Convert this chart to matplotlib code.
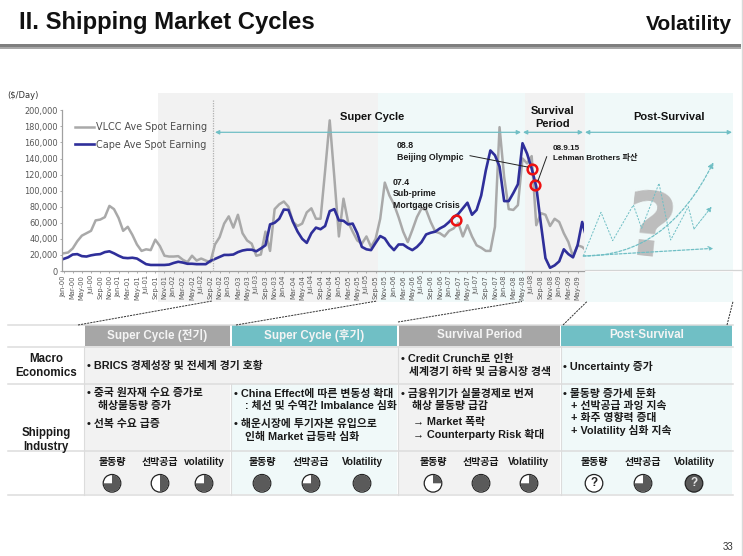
import matplotlib
matplotlib.use("Agg")
import matplotlib.pyplot as plt
from matplotlib.patches import Rectangle, Wedge, Circle, FancyArrowPatch
from matplotlib.lines import Line2D
from matplotlib.path import Path

W, H = 743, 556
FONT = ['Liberation Sans', 'Noto Sans CJK KR', 'DejaVu Sans']
plt.rcParams['font.family'] = FONT

tick_labels = ["Jan-00","Mar-00","May-00","Jul-00","Sep-00","Nov-00",
               "Jan-01","Mar-01","May-01","Jul-01","Sep-01","Nov-01",
               "Jan-02","Mar-02","May-02","Jul-02","Sep-02","Nov-02",
               "Jan-03","Mar-03","May-03","Jul-03","Sep-03","Nov-03",
               "Jan-04","Mar-04","May-04","Jul-04","Sep-04","Nov-04",
               "Jan-05","Mar-05","May-05","Jul-05","Sep-05","Nov-05",
               "Jan-06","Mar-06","May-06","Jul-06","Sep-06","Nov-06",
               "Jan-07","Mar-07","May-07","Jul-07","Sep-07","Nov-07",
               "Jan-08","Mar-08","May-08","Jul-08","Sep-08","Nov-08",
               "Jan-09","Mar-09","May-09"]
y_ticks = [0,20000,40000,60000,80000,100000,120000,140000,160000,180000,200000]

vlcc = [22,23,28,37,44,47,50,63,64,67,81,77,66,50,55,45,33,25,27,26,39,31,19,18,18,18.5,14,11,19,13,15.5,13,
        11,33,42,59,68,54,70,47,38,34,19,20.5,49,25,77,83,86.5,80,61,56,59,73,78,65,65,125,187.5,117,43,90,61,49,
        38,34,43,30,40,65,110,94,83,67,49,36,51,67,78,76,61,49,47,43,50,53,60,43,57,43,32,29,25,25,55,179,117,77,
        76,82,140,134,143,57,72,70,56,65,61,47,36,18,32,30,25]
cape = [15,17,20.5,21,18.5,18,19.5,20.5,21,23.5,24.5,22,19,16.5,16,16.5,15.5,12,8.5,7.5,7.5,7.5,7.5,8,10,11.5,
        10.5,9,9,8.5,8.5,8.5,12.5,15,17.5,20,20,20.5,23.5,25.5,26.5,26.5,24.5,28,32,58,60,65,76.5,76,61,49,40,35,
        47,54,52,56,74.5,77,63,62.5,58,59,47,30,27,26,35,43.5,40.5,32,26,33,33,29,26,30,36,45.5,47.6,49,53,56,61,
        67,71,78,85,70,76,94,125,150,144,130,87,87,97,108,159,146,127.5,105,59,16,4,7,12,27,21,17,32,61,40]
event_x = [85.6, 102.1, 102.8]
event_y = [64, 127.5, 107]

fig = plt.figure(figsize=(W/100, H/100), dpi=100, facecolor='white')

def Y(p):
    return H - p

bg = fig.add_axes([0, 0, 1, 1], zorder=0)
bg.set_xlim(0, W); bg.set_ylim(0, H); bg.axis('off')
fg = fig.add_axes([0, 0, 1, 1], zorder=2)
fg.set_xlim(0, W); fg.set_ylim(0, H); fg.axis('off'); fg.patch.set_alpha(0)

GRAY_BG, TEAL_BG = '#f2f2f2', '#f0f9f9'
TEAL, HEAD_GRAY = '#70bfc5', '#a6a6a6'
LINE = '#dcdcdc'
TXT = '#1a1a1a'

def rect(ax, x0, y0, x1, y1, c, z=1):
    ax.add_patch(Rectangle((x0, Y(y1)), x1-x0, y1-y0, fc=c, ec='none', zorder=z))

def seg(ax, x0, y0, x1, y1, **k):
    ax.add_line(Line2D([x0, x1], [Y(y0), Y(y1)], **k))

def txt(x, y, s, size=7, ha='left', color=TXT, weight='bold', ax=None, **k):
    (ax or fg).text(x, Y(y), s, fontsize=size, ha=ha, va='center', color=color, fontweight=weight, **k)

# header
txt(19, 22.5, "II. Shipping Market Cycles", size=17.2, color='#111111')
txt(732, 25, "Volatility", size=15, ha='right', color='#111111')
rect(bg, 0, 44, 741, 47, '#7f7f7f')
rect(bg, 0, 47, 741, 49, '#a8a8a8')
seg(bg, 741.5, 0, 741.5, H, color='#d9d9d9', lw=1)
txt(733, 547, "33", size=7, ha='right', weight='normal', color='#333333')

# chart bands
rect(bg, 158, 93, 378, 302, GRAY_BG)
rect(bg, 378, 93, 525, 302, TEAL_BG)
rect(bg, 525, 93, 584.5, 302, GRAY_BG)
rect(bg, 584.5, 93, 733, 302, TEAL_BG)
rect(bg, 584.5, 270, 741, 272, 'white', z=2)
seg(bg, 584.5, 270.3, 741, 270.3, color='#d4d4d4', lw=0.9, zorder=3)

# chart
L, R, T, B = 62, 584, 110.3, 271
ax = fig.add_axes([L/W, 1-B/H, (R-L)/W, (B-T)/H], zorder=1)
ax.patch.set_alpha(0)
x0_px, dx_px = 63.5, 4.59
ax.set_xlim((L-x0_px)/dx_px, (R-x0_px)/dx_px)
ax.set_ylim(0, 200000)
xs = list(range(len(cape)))
ax.plot(xs[:len(vlcc)], [v*1000 for v in vlcc], color='#a9a9a9', lw=1.8, label='VLCC Ave Spot Earning', solid_joinstyle='round')
ax.plot(xs, [v*1000 for v in cape], color='#2f2f9a', lw=1.9, label='Cape Ave Spot Earning', solid_joinstyle='round')
ax.plot(event_x, [v*1000 for v in event_y], ls='none', marker='o', ms=7, mfc='none', mec='#ee1111', mew=1.8, zorder=5, clip_on=False)
for s in ('top', 'right'):
    ax.spines[s].set_visible(False)
for s in ('left', 'bottom'):
    ax.spines[s].set_color('#a0a0a0'); ax.spines[s].set_linewidth(0.9)
ax.set_yticks(y_ticks)
ax.set_yticklabels([f"{v:,}" for v in y_ticks], fontsize=5.9, color='#555555', family='DejaVu Sans')
ax.set_xticks(range(0, 2*len(tick_labels), 2))
ax.set_xticklabels(tick_labels, rotation=90, fontsize=4.9, color='#555555', family='DejaVu Sans')
ax.tick_params(axis='both', length=1.5, width=0.6, color='#a0a0a0', pad=1.5)
leg = ax.legend(loc='upper left', bbox_to_anchor=(0.025, 0.925), frameon=False,
                labelcolor='#4d4d4d', handlelength=2.0, handletextpad=0.15, labelspacing=0.75,
                borderaxespad=0, borderpad=0, prop={'family': 'DejaVu Sans', 'size': 6.9})
txt(7, 95, "($/Day)", size=6, color='#333333', weight='normal', family='DejaVu Sans')

# dotted divider
seg(fg, 212.7, 100, 212.7, 272, color='#b0b0b0', lw=0.9, ls=(0, (1, 1)))

# period arrows
for a, b in [(215, 521), (523, 583), (585, 732)]:
    fg.add_patch(FancyArrowPatch((a, Y(132.3)), (b, Y(132.3)), arrowstyle='<|-|>', mutation_scale=6,
                                 color=TEAL, lw=0.9, shrinkA=0, shrinkB=0))

PER = 8.0
txt(372.5, 117, "Super Cycle", size=PER, color='#111111', ha='center')
txt(552.5, 110.7, "Survival", size=PER, color='#111111', ha='center')
txt(552.5, 123.7, "Period", size=PER, color='#111111', ha='center')
txt(669, 117, "Post-Survival", size=PER, color='#111111', ha='center')

# notes
NOTE = 6.3
txt(396.7, 146, "08.8", size=NOTE)
txt(396.7, 157, "Beijing Olympic", size=NOTE)
txt(552.7, 148.3, "08.9.15", size=5.9)
txt(552.7, 158.3, "Lehman Brothers 파산", size=5.9)
txt(393, 182.3, "07.4", size=NOTE)
txt(393, 194, "Sub-prime", size=NOTE)
txt(393, 205, "Mortgage Crisis", size=NOTE)
seg(fg, 470, 155.7, 527.5, 167, color='#222222', lw=0.7)
seg(fg, 546.7, 156.7, 538, 180.7, color='#222222', lw=0.7)

# scenario lines in post-survival
zig = [(40,318),(93,187),(128,272),(190,165),(215,235),(267,100),(302,270),(355,170),(372,237),(425,170)]
px = lambda p: (570+p[0]/3, Y(150+p[1]/3))
DASH = (0, (2.2, 1.4))
bg.text(650, Y(232), "?", fontsize=64, color='#bdbdbd', fontweight='bold', ha='center', va='center', rotation=-6, zorder=4,
        family='DejaVu Sans')
fg.plot([px(p)[0] for p in zig[:-1]], [px(p)[1] for p in zig[:-1]], color=TEAL, lw=0.7, ls=DASH)
fg.add_patch(FancyArrowPatch(px(zig[-2]), px(zig[-1]), arrowstyle='-|>', mutation_scale=7, color=TEAL, lw=0.7, ls=DASH, shrinkA=0, shrinkB=0))
fg.add_patch(FancyArrowPatch(px((40,318)), px((430,295)), arrowstyle='->', mutation_scale=7, color=TEAL, lw=0.9, ls=DASH, shrinkA=0, shrinkB=0))
curve = Path([px((40,318)), px((290,320)), px((430,37))], [Path.MOVETO, Path.CURVE3, Path.CURVE3])
fg.add_patch(FancyArrowPatch(path=curve, arrowstyle='-|>', mutation_scale=8, color=TEAL, lw=0.9, ls=DASH))

# connectors
for a, b, c, d in [(78,325,212,301),(236,325,377,301),(398,322,522,301.5),(563,325,587,301.5),(727,325,733,301.5)]:
    seg(bg, a, b, c, d, color='#333333', lw=0.7, ls=(0, (2.2, 1)), zorder=3)

# table
cols = [84, 231, 398, 560.5, 733]
heads = ["Super Cycle (전기)", "Super Cycle (후기)", "Survival Period", "Post-Survival"]
for i in range(4):
    rect(bg, cols[i]+0.6, 325, cols[i+1]-0.6, 346, HEAD_GRAY if i % 2 == 0 else TEAL)
    rect(bg, cols[i]+0.6, 346, cols[i+1]-0.6, 494, GRAY_BG if i % 2 == 0 else TEAL_BG)
    txt((cols[i]+cols[i+1])/2, 335, heads[i], size=8.4, ha='center', color='#f4f4f4')
rect(bg, 84, 346, 232, 384, GRAY_BG)
rect(bg, 231.6, 346, 398, 384, GRAY_BG)
for y_ in (324.5, 346.8, 383.6, 451, 494.5):
    seg(bg, 8, y_, 733, y_, color=LINE, lw=1.1, zorder=2)
for x_, top in zip(cols[:-1], (346, 384, 346, 346)):
    seg(bg, x_, top, x_, 494.5, color=LINE, lw=0.8, zorder=2)

txt(46, 358.7, "Macro", size=8.3, ha='center')
txt(46, 372.7, "Economics", size=8.3, ha='center')
txt(46, 433, "Shipping", size=8.3, ha='center')
txt(46, 447, "Industry", size=8.3, ha='center')

C = 7.8
cells = [
 (87, 365.7, "• BRICS 경제성장 및 전세계 경기 호황"),
 (87, 393.3, "• 중국 원자재 수요 증가로"), (98, 406.3, "해상물동량 증가"), (87, 424, "• 선복 수요 급증"),
 (234, 394, "• China Effect에 따른 변동성 확대"), (245, 406.5, ": 체선 및 수역간 Imbalance 심화"),
 (234, 424, "• 해운시장에 투기자본 유입으로"), (245, 437, "인해 Market 급등락 심화"),
 (401, 359.3, "• Credit Crunch로 인한"), (409, 372, "세계경기 하락 및 금융시장 경색"),
 (401, 393.6, "• 금융위기가 실물경제로 번져"), (412, 406, "해상 물동량 급감"),
 (413, 421.7, "→ Market 폭락"), (413, 434, "→ Counterparty Risk 확대"),
 (563, 366, "• Uncertainty 증가"),
 (563, 393.6, "• 물동량 증가세 둔화"), (571, 406, "+ 선박공급 과잉 지속"), (571, 418, "+ 화주 영향력 증대"), (571, 430.6, "+ Volatility 심화 지속"),
]
for x_, y_, s in cells:
    txt(x_, y_, s, size=C)

icon_x = [112, 160, 204, 262, 311, 362, 433, 481, 529, 594, 643, 694]
icon_labels = ["물동량","선박공급","volatility","물동량","선박공급","Volatility",
               "물동량","선박공급","Volatility","물동량","선박공급","Volatility"]
icon_fill = [0.75, 0.5, 0.75, 1, 0.75, 1, 0.25, 1, 0.75, 'q', 0.75, 'Q']
DARK = '#5a5a5a'
for x_, lab, f in zip(icon_x, icon_labels, icon_fill):
    txt(x_, 461.7, lab, size=7.2, ha='center')
    cy = Y(483.3)
    if f == 'q' or f == 'Q':
        face = 'white' if f == 'q' else DARK
        fg.add_patch(Circle((x_, cy), 8.8, fc=face, ec='#222222', lw=0.9, zorder=3))
        fg.text(x_, cy, "?", fontsize=8.5, fontweight='bold', ha='center', va='center',
                color='#222222' if f == 'q' else '#e6e6e6', zorder=4)
    else:
        fg.add_patch(Circle((x_, cy), 8.8, fc='white', ec='#222222', lw=0.9, zorder=3))
        if f == 1:
            fg.add_patch(Circle((x_, cy), 8.4, fc=DARK, ec='none', zorder=4))
        else:
            fg.add_patch(Wedge((x_, cy), 8.4, 90-360*f, 90, fc=DARK, ec='none', zorder=4))

fig.savefig('out.png', dpi=100)
